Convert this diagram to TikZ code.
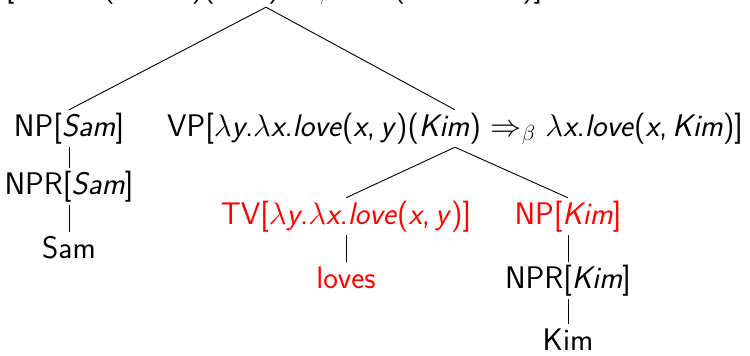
\RequirePackage{fix-cm}
\documentclass[tikz,border=0pt]{standalone}
\usepackage{fontspec}
\usepackage{amsmath}
\newcommand{\sv}[1]{\textit{#1}}

\begin{document}
\begin{tikzpicture}[x=1pt,y=-1pt,
    cat/.style={font=\fontsize{31.2}{37}\sffamily, anchor=base, inner xsep=0pt, inner ysep=2pt, text height=24pt, text depth=9pt},
    hl/.style={cat, text=red},
    br/.style={line width=0.9pt}]
\useasboundingbox (0,0) rectangle (750,356);
                \node[cat] (s) at (266,-4) {S[$\lambda$\sv{x}.\sv{love}(\sv{x},\,\sv{Kim})(\sv{Sam}) $\Rightarrow_\beta$ \sv{love}(\sv{Sam},\,\sv{Kim})]};
                \node[cat] (np1) at (69,136) {NP[\sv{Sam}]};
                \node[cat] (vp) at (455,136) {VP[$\lambda$\sv{y}.$\lambda$\sv{x}.\sv{love}(\sv{x},\,\sv{y})(\sv{Kim}) $\Rightarrow_\beta$ $\lambda$\sv{x}.\sv{love}(\sv{x},\,\sv{Kim})]};
                \node[cat] (npr1) at (69,194) {NPR[\sv{Sam}]};
                \node[cat] (sam) at (69,258) {Sam};
                \node[hl] (tv) at (346,224) {TV[$\lambda$\sv{y}.$\lambda$\sv{x}.\sv{love}(\sv{x},\,\sv{y})]};
                \node[hl] (np2) at (568,224) {NP[\sv{Kim}]};
                \node[hl] (loves) at (346,288) {loves};
                \node[cat] (npr2) at (568,288) {NPR[\sv{Kim}]};
                \node[cat] (kim) at (568,350) {Kim};

                \draw[br] (s.south)--(np1.north) (s.south)--(vp.north);
                \draw[br] (vp.south)--(tv.north) (vp.south)--(np2.north);
                \draw[br] (np1.south)--(npr1.north) (npr1.south)--(sam.north);
                \draw[br] (tv.south)--(loves.north);
                \draw[br] (np2.south)--(npr2.north) (npr2.south)--(kim.north);
                
\end{tikzpicture}
\end{document}
